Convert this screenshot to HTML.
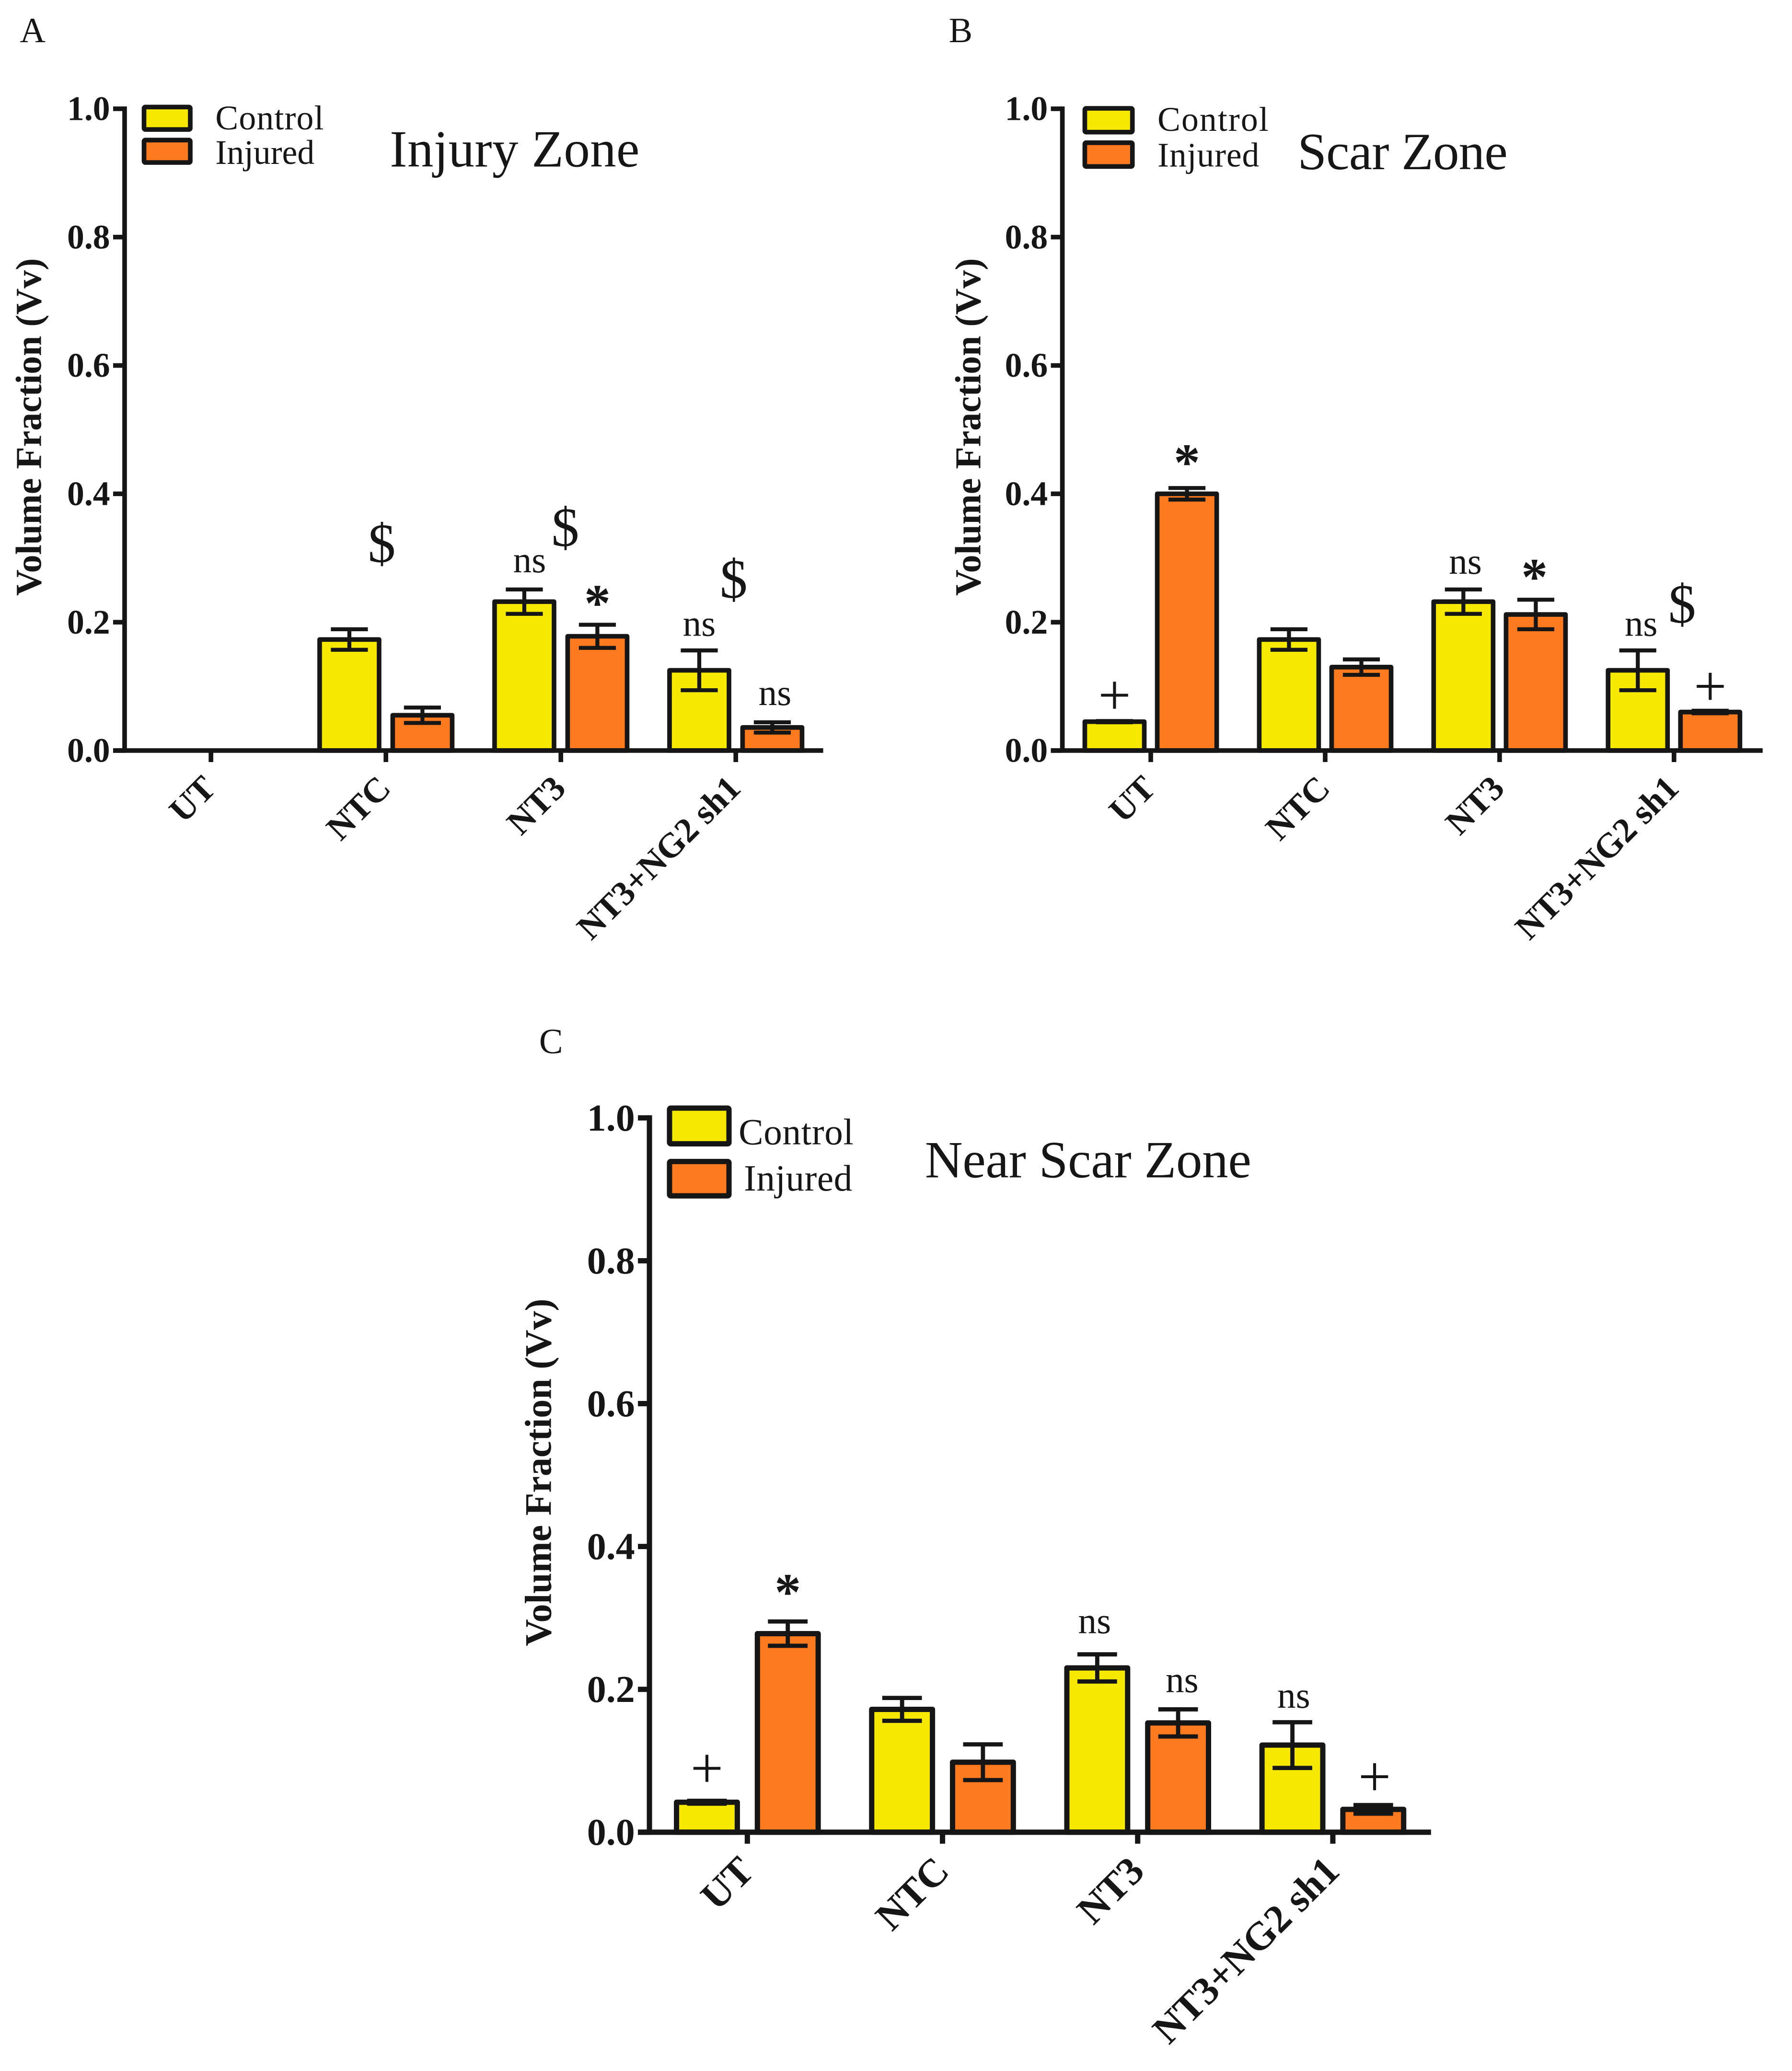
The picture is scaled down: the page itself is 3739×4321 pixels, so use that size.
<!DOCTYPE html>
<html lang="en">
<head>
<meta charset="utf-8">
<title>Volume Fraction by Zone</title>
<style>
html,body{margin:0;padding:0;background:#fff;}
svg{display:block;}
text{font-family:"Liberation Serif",serif;fill:#161616;}
</style>
</head>
<body>
<svg id="figure" xmlns="http://www.w3.org/2000/svg" width="3739" height="4321" viewBox="0 0 1356.2 1567.3"></svg>
<script>
var categories = ['UT', 'NTC', 'NT3', 'NT3+NG2 sh1'];
var yTickLabels = ['0.0', '0.2', '0.4', '0.6', '0.8', '1.0'];
var yTickValues = [0, 0.2, 0.4, 0.6, 0.8, 1.0];

var controlA = [0, 0.173, 0.232, 0.125];
var injuredA = [0, 0.055, 0.178, 0.036];
var controlErrA = [0, 0.016, 0.019, 0.031];
var injuredErrA = [0, 0.012, 0.018, 0.008];

var controlB = [0.045, 0.173, 0.232, 0.125];
var injuredB = [0.400, 0.130, 0.212, 0.060];
var controlErrB = [0.001, 0.016, 0.019, 0.031];
var injuredErrB = [0.009, 0.012, 0.023, 0.002];

var controlC = [0.042, 0.172, 0.230, 0.122];
var injuredC = [0.278, 0.098, 0.153, 0.032];
var controlErrC = [0.002, 0.016, 0.019, 0.032];
var injuredErrC = [0.017, 0.025, 0.019, 0.006];

var svg = document.getElementById('figure');
var NS = 'http://www.w3.org/2000/svg';
var INK = '#161616';

function make(tag, attrs, parent, txt) {
  var n = document.createElementNS(NS, tag);
  for (var k in attrs) n.setAttribute(k, attrs[k]);
  if (txt !== undefined) n.textContent = txt;
  parent.appendChild(n);
  return n;
}

function drawPanel(p) {
  var g = make('g', {}, svg);
  
  

  function yScale(v) { return p.y0 - v * (p.y0 - p.y1); }
  function xScale(group, series) {
    return p.firstBar + group * p.spacing + (series ? p.injOffset : 0);
  }
  function tickX(group) { return xScale(group, 0) + p.injOffset / 2; }

  var letter = make('text', {x: p.letterX, y: p.letterY, 'font-size': 27}, g, p.letter);
  
  

  var title = make('text', {x: p.titleX, y: p.titleY, 'font-size': 39.5, textLength: p.titleLen}, g, p.title);
  
  

  var yTitle = make('text', {
    transform: 'translate(' + p.yTitleX + ',' + ((p.y0 + p.y1) / 2 + p.yTitleShift) + ') rotate(-90)',
    'text-anchor': 'middle', 'font-size': p.yTitleSize, 'font-weight': 'bold'
  }, g, 'Volume Fraction (Vv)');
  
  

  // bars and error bars
  [[p.control, p.controlErr, p.yellow], [p.injured, p.injuredErr, p.orange]].forEach(function (s, si) {
    s[0].forEach(function (v, i) {
      if (v <= 0) return;
      var cx = xScale(i, si), top = yScale(v), e = s[1][i];
      var cap1 = make('line', {x1: cx - p.cap, x2: cx + p.cap, y1: yScale(v + e), y2: yScale(v + e), stroke: INK, 'stroke-width': p.esw}, g);
      
      
      var bar = make('rect', {x: cx - p.barW / 2, y: top, width: p.barW, height: p.y0 - top, fill: s[2], stroke: INK, 'stroke-width': p.sw, 'stroke-linejoin': 'round'}, g);
      
      
      var stem = make('line', {x1: cx, x2: cx, y1: yScale(v + e), y2: yScale(v - e), stroke: INK, 'stroke-width': p.esw}, g);
      
      
      var cap2 = make('line', {x1: cx - p.cap, x2: cx + p.cap, y1: yScale(v - e), y2: yScale(v - e), stroke: INK, 'stroke-width': p.esw}, g);
      
      
    });
  });

  // axes
  var yAxis = make('line', {x1: p.axisX, x2: p.axisX, y1: p.y1 - p.sw / 2, y2: p.y0, stroke: INK, 'stroke-width': p.sw}, g);
  
  
  var xAxis = make('line', {x1: p.axisX - 8.7, x2: p.xEnd, y1: p.y0, y2: p.y0, stroke: INK, 'stroke-width': p.sw}, g);
  
  

  yTickValues.forEach(function (v, i) {
    var y = yScale(v);
    var tick = make('line', {x1: p.axisX - 8.7, x2: p.axisX, y1: y, y2: y, stroke: INK, 'stroke-width': p.sw}, g);
    
    
    var lab = make('text', {x: p.axisX - 11, y: y + p.tickSize * 0.33, 'text-anchor': 'end', 'font-size': p.tickSize, 'font-weight': 'bold'}, g, yTickLabels[i]);
    
    
  });

  categories.forEach(function (c, i) {
    var x = tickX(i);
    var tick = make('line', {x1: x, x2: x, y1: p.y0, y2: p.y0 + 8.7, stroke: INK, 'stroke-width': p.sw}, g);
    
    
    var lab = make('text', {
      transform: 'translate(' + (x + p.catDx) + ',' + (p.y0 + p.catDy) + ') rotate(-45)',
      'text-anchor': 'end', 'font-size': p.catSize, 'font-weight': 'bold'
    }, g, c);
    
    
  });

  // legend
  p.legend.forEach(function (l) {
    var sw = make('rect', {x: l.x, y: l.y, width: l.w, height: l.h, fill: l.fill, stroke: INK, 'stroke-width': p.sw, rx: 1}, g);
    
    
    var t = make('text', {x: l.tx, y: l.ty, 'font-size': l.size, textLength: l.len}, g, l.text);
    
    
  });

  // significance marks follow the bar they annotate
  p.marks.forEach(function (m) {
    var vals = m.s ? p.injured : p.control, errs = m.s ? p.injuredErr : p.controlErr;
    var x = xScale(m.g, m.s) + m.dx, y = yScale(vals[m.g] + errs[m.g]) + m.dy;
    var size = m.t === '$' ? 42 : m.t === 'ns' ? 28 : m.t === '*' ? 40 : 44;
    var t = make('text', {x: x, y: y, 'text-anchor': 'middle', 'font-size': size, 'font-weight': m.t === '*' ? 'bold' : 'normal'}, g, m.t);
    
    
  });
}

drawPanel({
  id: 'injury-zone', letter: 'A', letterX: 15, letterY: 32,
  title: 'Injury Zone', titleX: 295, titleY: 126, titleLen: 189,
  control: controlA, injured: injuredA, controlErr: controlErrA, injuredErr: injuredErrA,
  axisX: 94.3, xEnd: 623, y0: 568, y1: 82.3, firstBar: 132, spacing: 132.4, injOffset: 55.3, barW: 45, cap: 14, sw: 3.5, esw: 3,
  tickSize: 26, catSize: 26.3, catDx: 5, catDy: 30, yTitleX: 31, yTitleShift: -2, yTitleSize: 27.5,
  yellow: '#f7e800', orange: '#fd7a1e',
  legend: [
    {x: 109, y: 81, w: 35, h: 17, fill: '#f7e800', tx: 163, ty: 98, size: 26, len: 82, text: 'Control'},
    {x: 109, y: 106, w: 35, h: 17, fill: '#fd7a1e', tx: 163, ty: 124, size: 26, len: 75, text: 'Injured'}
  ],
  marks: [
    {t: '$', g: 1, s: 0, dx: 24.5, dy: -51},
    {t: '$', g: 2, s: 0, dx: 31, dy: -33},
    {t: 'ns', g: 2, s: 0, dx: 4, dy: -13},
    {t: '*', g: 2, s: 1, dx: 0, dy: -3},
    {t: '$', g: 3, s: 0, dx: 26, dy: -40},
    {t: 'ns', g: 3, s: 0, dx: 0, dy: -11},
    {t: 'ns', g: 3, s: 1, dx: 2, dy: -13}
  ]
});

drawPanel({
  id: 'scar-zone', letter: 'B', letterX: 718, letterY: 32,
  title: 'Scar Zone', titleX: 982, titleY: 128, titleLen: 159,
  control: controlB, injured: injuredB, controlErr: controlErrB, injuredErr: injuredErrB,
  axisX: 804, xEnd: 1334, y0: 568, y1: 82.3, firstBar: 843.5, spacing: 132, injOffset: 54.8, barW: 45, cap: 14, sw: 3.5, esw: 3,
  tickSize: 26, catSize: 26.3, catDx: 5, catDy: 30, yTitleX: 742, yTitleShift: -2, yTitleSize: 27.5,
  yellow: '#f7e800', orange: '#fd7a1e',
  legend: [
    {x: 821, y: 82, w: 36, h: 18, fill: '#f7e800', tx: 876, ty: 99, size: 26, len: 84, text: 'Control'},
    {x: 821, y: 108, w: 36, h: 18, fill: '#fd7a1e', tx: 876, ty: 126, size: 26, len: 77, text: 'Injured'}
  ],
  marks: [
    {t: '+', g: 0, s: 0, dx: 0, dy: -5},
    {t: '*', g: 0, s: 1, dx: 0, dy: -6},
    {t: 'ns', g: 2, s: 0, dx: 1.5, dy: -12},
    {t: '*', g: 2, s: 1, dx: -1, dy: -4},
    {t: 'ns', g: 3, s: 0, dx: 2.5, dy: -11},
    {t: '$', g: 3, s: 0, dx: 33.5, dy: -21},
    {t: '+', g: 3, s: 1, dx: 0, dy: -4}
  ]
});

drawPanel({
  id: 'near-scar-zone', letter: 'C', letterX: 408, letterY: 797,
  title: 'Near Scar Zone', titleX: 700, titleY: 891, titleLen: 247,
  control: controlC, injured: injuredC, controlErr: controlErrC, injuredErr: injuredErrC,
  axisX: 491.5, xEnd: 1083, y0: 1386.6, y1: 846, firstBar: 535, spacing: 147.7, injOffset: 61.2, barW: 46, cap: 15, sw: 4, esw: 3.2,
  tickSize: 29, catSize: 30, catDx: 6.5, catDy: 31, yTitleX: 417, yTitleShift: -2, yTitleSize: 28.3,
  yellow: '#f7e800', orange: '#fd7a1e',
  legend: [
    {x: 506.7, y: 838.6, w: 45, h: 27, fill: '#f7e800', tx: 559, ty: 866, size: 28, len: 87, text: 'Control'},
    {x: 506.7, y: 879, w: 45, h: 26, fill: '#fd7a1e', tx: 563, ty: 901, size: 28, len: 82, text: 'Injured'}
  ],
  marks: [
    {t: '+', g: 0, s: 0, dx: 0, dy: -10},
    {t: '*', g: 0, s: 1, dx: 0, dy: -9},
    {t: 'ns', g: 2, s: 0, dx: -2, dy: -16},
    {t: 'ns', g: 2, s: 1, dx: 3, dy: -13},
    {t: 'ns', g: 3, s: 0, dx: 1, dy: -11},
    {t: '+', g: 3, s: 1, dx: 1, dy: -7}
  ]
});
</script>
</body>
</html>
